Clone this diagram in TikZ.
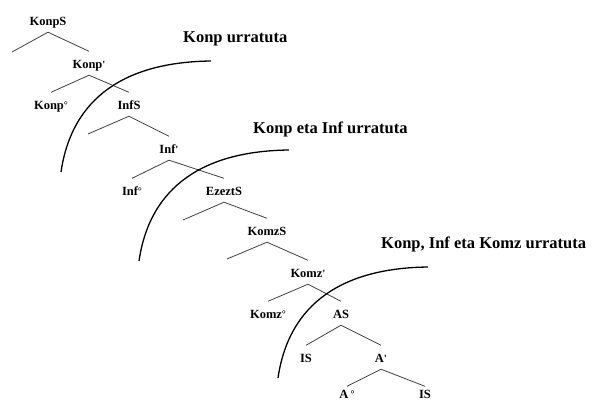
\documentclass[tikz,border=0pt]{standalone}
\usepackage{fontspec}
\setmainfont{Liberation Serif}
\newcommand{\barmark}{{\fontsize{11}{12}\selectfont\textquotesingle}}
\newcommand{\headmark}{{\fontsize{10}{12}\selectfont\raisebox{0.5pt}{\textdegree}}}
\begin{document}
\begin{tikzpicture}[x=1pt,y=-1pt,
  lbl/.style={font=\bfseries\fontsize{12.5}{14}\selectfont, anchor=base,
    inner xsep=0pt, inner ysep=0pt, text height=16.5pt, text depth=7pt},
  low/.style={text depth=3pt},
  ttl/.style={font=\bfseries\fontsize{16.5}{19}\selectfont, anchor=base west,
    inner sep=0pt},
  branch/.style={draw=black!75, line width=0.8pt},
  cut/.style={draw=black, line width=1.3pt}]
\useasboundingbox (0,0) rectangle (603,402);

% tree labels (positioned on their baselines)
\node[lbl] (konpS)  at (48,25)   {KonpS};
\node[lbl] (konpB)  at (89,68)   {Konp\barmark};
\node[lbl] (konp0)  at (51,109)  {Konp\headmark};
\node[lbl] (infS)   at (129,109) {InfS};
\node[lbl] (infB)   at (169,153) {Inf\barmark};
\node[lbl] (inf0)   at (132,195) {Inf\headmark};
\node[lbl] (ezeztS) at (224,195) {EzeztS};
\node[lbl] (komzS)  at (267,235) {KomzS};
\node[lbl] (komzB)  at (308,277) {Komz\barmark};
\node[lbl] (komz0)  at (268,318) {Komz\headmark};
\node[lbl] (aS)     at (341,318) {AS};
\node[lbl] (isA)    at (306,362) {IS};
\node[lbl] (aB)     at (381,362) {A\barmark};
\node[lbl,low] (a0)  at (347,398) {A\,\headmark};
\node[lbl,low] (isB) at (425,398) {IS};

% empty specifier positions
\coordinate (specKonp)  at (12,52);
\coordinate (specInf)   at (88,134);
\coordinate (specEzezt) at (183,220);
\coordinate (specKomz)  at (227,259);

% branches
\draw[branch] (specKonp) -- (konpS.south) -- (konpB.north);
\draw[branch] (konp0.north) -- (konpB.south) -- (infS.north);
\draw[branch] (specInf) -- (infS.south) -- (infB.north);
\draw[branch] (inf0.north) -- (infB.south) -- (ezeztS.north);
\draw[branch] (specEzezt) -- (ezeztS.south) -- (komzS.north);
\draw[branch] (specKomz) -- (komzS.south) -- (komzB.north);
\draw[branch] (komz0.north) -- (komzB.south) -- (aS.north);
\draw[branch] (isA.north) -- (aS.south) -- (aB.north);
\draw[branch] ([yshift=-5pt]a0.north) -- (aB.south) -- ([yshift=-5pt]isB.north);

% truncation lines with their captions
\draw[cut] (211,61) .. controls (126,62) and (72,97) .. (61,172);
\draw[cut] (289,150) .. controls (204,151) and (150,186) .. (139,261);
\draw[cut] (428,267) .. controls (343,268) and (289,303) .. (278,378);

\node[ttl] (t1) at (183,42)  {Konp urratuta};
\node[ttl] (t2) at (253,133) {Konp eta Inf urratuta};
\node[ttl] (t3) at (381,248) {Konp, Inf eta Komz urratuta};
\end{tikzpicture}
\end{document}
